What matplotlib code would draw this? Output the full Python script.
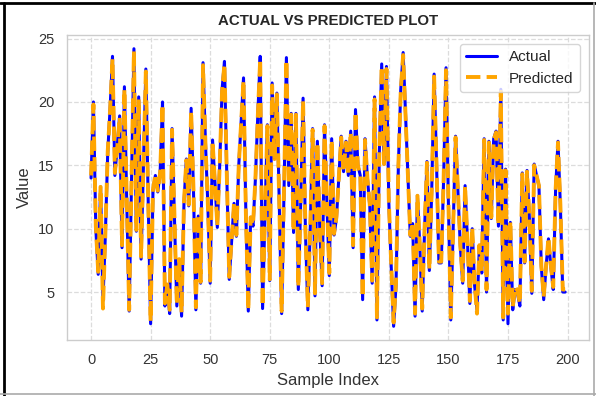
import matplotlib
matplotlib.use("Agg")
import matplotlib.pyplot as plt
import seaborn as sns
from matplotlib.lines import Line2D

actual = [
    14.0, 20.0, 10.0, 6.4, 13.3, 4.3, 9.5, 16.0, 19.5, 23.6,
    14.2, 16.5, 18.9, 8.5, 21.2, 12.0, 3.5, 14.0, 24.2, 9.8,
    20.4, 7.6, 15.0, 22.6, 12.0, 2.5, 13.0, 14.2, 12.9, 14.5,
    20.0, 3.9, 5.5, 3.3, 17.9, 11.0, 3.9, 7.5, 3.1, 12.0,
    15.5, 11.8, 19.5, 13.0, 3.6, 11.0, 5.7, 23.1, 16.9, 12.0,
    5.7, 17.0, 13.7, 10.1, 15.0, 21.0, 23.2, 14.0, 6.0, 9.0,
    12.0, 9.4, 15.0, 18.5, 21.9, 11.0, 3.5, 10.9, 10.2, 14.0,
    19.0, 23.6, 3.7, 11.0, 18.2, 5.9, 21.5, 15.5, 20.7, 12.0,
    3.3, 13.0, 23.5, 13.4, 19.1, 9.7, 19.1, 5.2, 12.0, 20.3,
    9.7, 3.6, 10.0, 17.9, 4.7, 16.9, 10.0, 5.5, 18.2, 12.0,
    6.3, 17.1, 9.5, 10.8, 14.0, 17.3, 14.5, 16.9, 14.2, 17.7,
    8.5, 19.4, 15.0, 14.2, 4.4, 17.1, 14.0, 11.8, 5.7, 20.4,
    2.8, 16.0, 23.0, 15.1, 22.8, 12.0, 7.0, 2.3, 5.5, 15.0,
    21.0, 23.9, 19.0, 14.0, 9.4, 10.4, 3.1, 12.6, 8.6, 3.5,
    10.0, 15.3, 6.7, 13.0, 22.2, 15.3, 7.3, 7.3, 14.0, 22.7,
    12.0, 2.8, 10.0, 17.3, 13.0, 8.6, 5.7, 13.4, 9.0, 4.1,
    10.0, 5.5, 3.6, 8.6, 6.5, 17.1, 5.0, 16.9, 10.8, 17.1,
    17.7, 10.2, 21.0, 2.8, 14.7, 2.5, 10.5, 3.6, 5.2, 4.9,
    3.9, 14.4, 7.3, 14.6, 10.8, 4.9, 15.1, 14.2, 13.4, 7.0,
    4.4, 7.0, 9.2, 7.0, 5.2, 13.1, 16.9, 11.8, 5.0, 5.0,
]

predicted = [
    14.2, 19.8, 10.2, 6.6, 13.3, 3.7, 9.6, 16.1, 19.4, 23.4,
    14.4, 16.4, 18.8, 8.7, 21.0, 12.1, 3.6, 14.1, 24.0, 9.9,
    20.2, 7.8, 15.1, 22.4, 12.1, 2.7, 13.1, 14.3, 13.0, 14.4,
    19.8, 4.1, 5.6, 3.6, 17.8, 11.1, 4.0, 7.6, 3.4, 12.1,
    15.4, 11.9, 19.3, 13.1, 3.8, 11.1, 5.8, 22.9, 16.8, 12.1,
    5.9, 16.9, 13.7, 10.2, 15.0, 20.9, 23.0, 14.1, 6.2, 9.1,
    12.0, 9.5, 15.0, 18.4, 21.7, 11.1, 3.6, 10.9, 10.3, 14.0,
    18.9, 23.4, 3.9, 11.1, 18.1, 6.0, 21.3, 15.5, 20.6, 12.1,
    3.5, 13.1, 23.3, 13.5, 19.0, 9.8, 19.0, 5.4, 12.1, 20.1,
    9.8, 3.8, 10.1, 17.8, 4.9, 16.8, 10.1, 5.7, 18.1, 12.1,
    6.5, 17.0, 9.6, 10.9, 14.0, 17.2, 14.5, 16.8, 14.2, 17.6,
    8.7, 19.2, 15.0, 14.2, 4.6, 17.0, 14.0, 11.9, 5.9, 20.2,
    3.0, 16.0, 22.8, 15.1, 22.6, 12.1, 7.2, 2.6, 5.7, 15.0,
    20.9, 23.7, 18.9, 14.0, 9.5, 10.5, 3.3, 12.6, 8.7, 3.7,
    10.1, 15.2, 6.8, 13.1, 22.0, 15.2, 7.4, 7.4, 14.0, 22.5,
    12.1, 3.0, 10.1, 17.2, 13.1, 8.7, 5.9, 13.4, 9.1, 4.3,
    10.1, 5.7, 3.3, 8.7, 6.6, 17.0, 5.2, 16.8, 10.9, 17.0,
    17.6, 10.3, 20.8, 3.0, 14.6, 3.3, 10.6, 3.8, 5.4, 5.1,
    4.1, 14.3, 7.4, 14.5, 10.9, 5.1, 15.0, 14.2, 13.4, 7.1,
    4.6, 7.1, 9.3, 7.1, 5.4, 13.1, 16.8, 11.9, 5.2, 5.2,
]

sns.set_theme(style="whitegrid")
plt.rcParams["font.family"] = ["Liberation Sans", "DejaVu Sans"]

fig = plt.figure(figsize=(5.96, 3.96), dpi=100)
ax = fig.add_axes([0.113, 0.141, 0.875, 0.771])

x = list(range(len(actual)))
ax.plot(x, actual, color="blue", linewidth=2.2, label="Actual")
ax.plot(x, predicted, color="orange", linestyle="--", linewidth=2.8, label="Predicted")

ax.set_title("ACTUAL VS PREDICTED PLOT", fontsize=10.8, fontweight="bold", color="#262626", pad=7)
ax.set_xlabel("Sample Index", fontsize=12, color="#333333")
ax.set_ylabel("Value", fontsize=12, color="#333333")
ax.tick_params(labelsize=10.5, colors="#333333")
ax.set_xticks([0, 25, 50, 75, 100, 125, 150, 175, 200])
ax.set_yticks([5, 10, 15, 20, 25])
ax.grid(True, linestyle="--", color="#dcdcdc", linewidth=0.9)
for s in ax.spines.values():
    s.set_color("#cccccc")
    s.set_linewidth(1.0)

leg = ax.legend(loc="upper right", fontsize=11, frameon=True, borderaxespad=0.6)
leg.get_frame().set_edgecolor("#cccccc")

# outer frame of the screenshot
fig.add_artist(Line2D([0.006, 0.006], [0.0, 0.993], transform=fig.transFigure, color="black", linewidth=2))
fig.add_artist(Line2D([0.0, 1.0], [0.993, 0.993], transform=fig.transFigure, color="black", linewidth=2))
fig.add_artist(Line2D([0.0, 1.0], [0.005, 0.005], transform=fig.transFigure, color="#aaaaaa", linewidth=1.2))
fig.add_artist(Line2D([0.997, 0.997], [0.0, 0.993], transform=fig.transFigure, color="#aaaaaa", linewidth=1.2))

fig.savefig("out.png", dpi=100)
